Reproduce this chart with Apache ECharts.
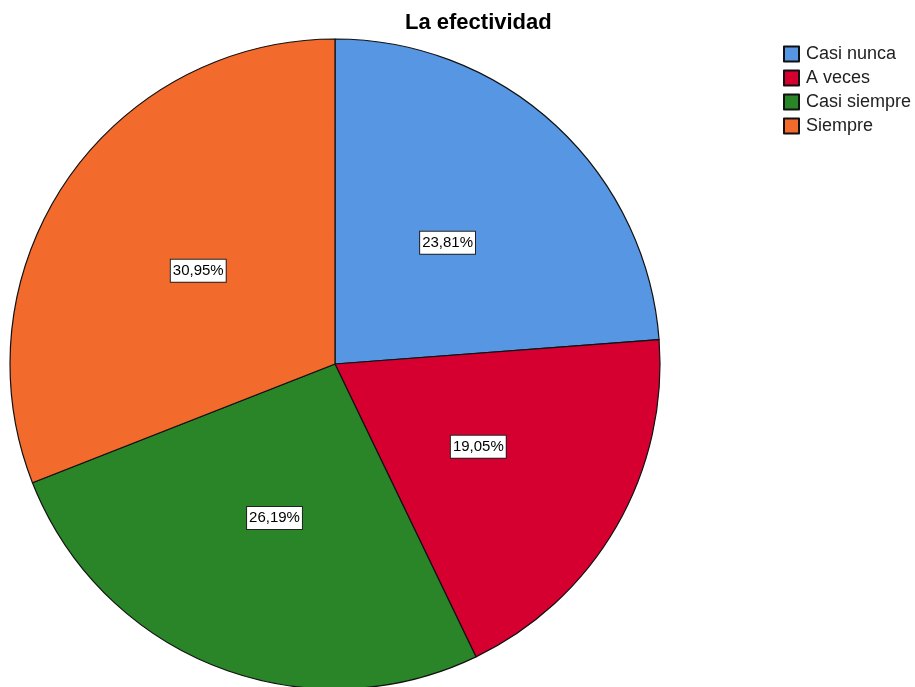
<!DOCTYPE html>
<html>
<head>
<meta charset="utf-8">
<script src="https://cdn.jsdelivr.net/npm/echarts@6/dist/echarts.min.js"></script>
<style>
  html, body { margin: 0; padding: 0; background: #fff; }
  #chart { width: 915px; height: 687px; }
</style>
</head>
<body>
<div id="chart"></div>
<script>
// Response categories and their share of answers (%)
const categories = ['Casi nunca', 'A veces', 'Casi siempre', 'Siempre'];
const percents = [23.81, 19.05, 26.19, 30.95];
const colors = ['#5796E3', '#D5002F', '#2A8528', '#F26A2C'];

const FONT = 'Liberation Sans, Arial, sans-serif';
const chart = echarts.init(document.getElementById('chart'));

chart.setOption({
  animation: false,
  backgroundColor: '#fff',
  title: {
    text: 'La efectividad',
    left: 400,
    top: 7,
    textStyle: { fontFamily: FONT, fontWeight: 'bold', fontSize: 22, color: '#000' }
  },
  legend: {
    orient: 'vertical',
    left: 778,
    top: 40,
    itemWidth: 15,
    itemHeight: 15,
    itemGap: 6,
    icon: 'rect',
    textStyle: { fontFamily: FONT, fontSize: 18, color: '#222', padding: [0, 0, 0, 2] },
    data: categories
  },
  series: [{
    type: 'pie',
    center: [335, 364],
    radius: [0, 325],
    startAngle: 90,
    clockwise: true,
    itemStyle: { borderColor: '#111', borderWidth: 1.2 },
    label: {
      position: 'inside',
      formatter: p => p.value.toFixed(2).replace('.', ',') + '%',
      fontFamily: FONT,
      fontSize: 15,
      color: '#000',
      backgroundColor: '#fff',
      borderColor: '#222',
      borderWidth: 1,
      padding: [4, 2, 3, 2]
    },
    labelLine: { show: false },
    emphasis: { disabled: true },
    data: categories.map((name, i) => ({
      name,
      value: percents[i],
      itemStyle: { color: colors[i] }
    }))
  }]
});
</script>
</body>
</html>
